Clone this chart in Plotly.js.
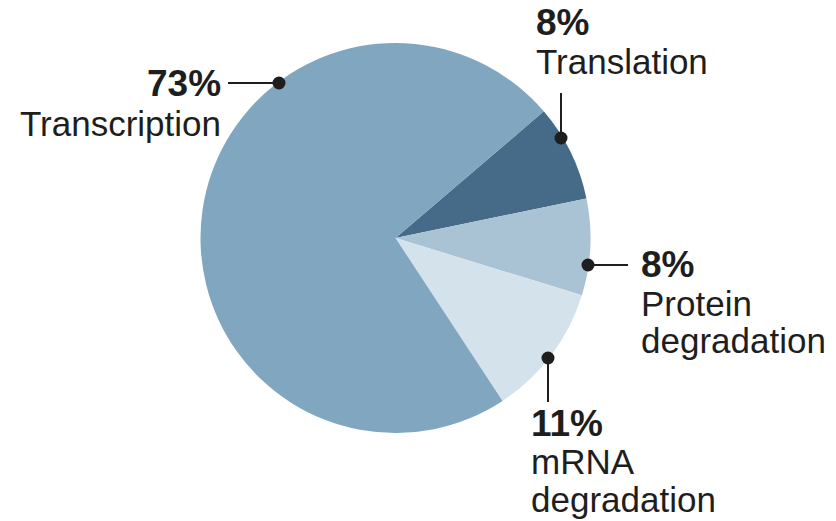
<!DOCTYPE html>
<html>
<head>
<meta charset="utf-8">
<script src="https://cdn.plot.ly/plotly-3.0.1.min.js"></script>
<style>
  html, body { margin: 0; padding: 0; background: #ffffff; }
  #chart { width: 836px; height: 521px; }
</style>
</head>
<body>
<div id="chart"></div>
<script>
// Share of variation attributed to each step of gene expression (%)
const processes = ['Translation', 'Protein degradation', 'mRNA degradation', 'Transcription'];
const shares = [8, 8, 11, 73];
const labelLines = [['Translation'], ['Protein', 'degradation'], ['mRNA', 'degradation'], ['Transcription']];
const sliceColors = ['#466b88', '#a9c3d4', '#d4e2ec', '#80a6c0'];

// Callout placement in page pixels: dot on the rim, far end of the leader,
// text anchor x and the baseline of each text line (percentage first).
const callouts = [
  { dot: [561, 138], end: [561, 93],  textX: 534, align: 'left',  baselines: [35, 74] },
  { dot: [588, 265], end: [628, 265], textX: 639, align: 'left',  baselines: [277, 316, 353] },
  { dot: [548, 358], end: [548, 402], textX: 529, align: 'left',  baselines: [436, 474, 512] },
  { dot: [279, 83],  end: [228, 83],  textX: 223, align: 'right', baselines: [96, 136] }
];

const W = 836, H = 521;
const pieCenter = [395.5, 238], pieRadius = 195;

const ink = '#1e1e1e';
const fontFamily = '"Liberation Sans", Arial, sans-serif';
const pctSize = 37, nameSize = 35;
const ascentOffset = 0.3465; // baseline sits this many em below the box middle

const annotations = [];
const shapes = [];

callouts.forEach((c, i) => {
  shapes.push({
    type: 'line', xref: 'x', yref: 'y', layer: 'above',
    x0: c.dot[0], y0: c.dot[1], x1: c.end[0], y1: c.end[1],
    line: { color: ink, width: 2 }
  });
  const r = 6.5;
  shapes.push({
    type: 'circle', xref: 'x', yref: 'y', layer: 'above',
    x0: c.dot[0] - r, x1: c.dot[0] + r, y0: c.dot[1] - r, y1: c.dot[1] + r,
    fillcolor: ink, line: { width: 0 }
  });
  const lines = [{ text: '<b>' + shares[i] + '%</b>', size: pctSize }]
    .concat(labelLines[i].map(t => ({ text: t, size: nameSize })));
  lines.forEach((ln, k) => {
    annotations.push({
      xref: 'x', yref: 'y',
      x: c.textX, y: c.baselines[k] - ascentOffset * ln.size,
      xanchor: c.align, yanchor: 'middle',
      text: ln.text, showarrow: false,
      font: { family: fontFamily, size: ln.size, color: ink }
    });
  });
});

const data = [{
  type: 'pie',
  labels: processes,
  values: shares,
  sort: false,
  direction: 'clockwise',
  rotation: 49.5,
  textinfo: 'none',
  hoverinfo: 'label+percent',
  showlegend: false,
  marker: { colors: sliceColors, line: { width: 0 } },
  domain: {
    x: [(pieCenter[0] - pieRadius) / W, (pieCenter[0] + pieRadius) / W],
    y: [(H - pieCenter[1] - pieRadius) / H, (H - pieCenter[1] + pieRadius) / H]
  }
}];

const layout = {
  width: W, height: H,
  margin: { l: 0, r: 0, t: 0, b: 0 },
  paper_bgcolor: '#ffffff',
  plot_bgcolor: 'rgba(0,0,0,0)',
  xaxis: { range: [0, W], visible: false, fixedrange: true },
  yaxis: { range: [H, 0], visible: false, fixedrange: true },
  annotations: annotations,
  shapes: shapes
};

Plotly.newPlot('chart', data, layout, { displayModeBar: false, staticPlot: true });
</script>
</body>
</html>
